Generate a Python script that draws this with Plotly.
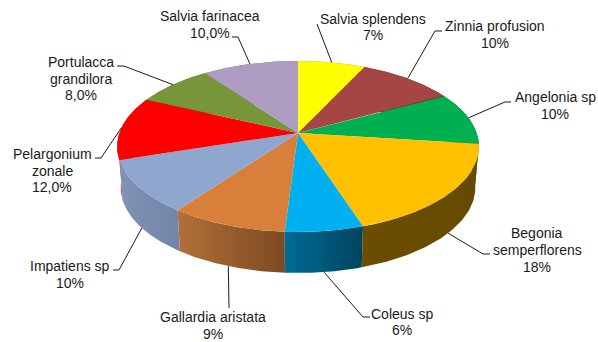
import numpy as np
import plotly.graph_objects as go

# ---- data ----
species = ["Salvia splendens", "Zinnia profusion", "Angelonia sp",
           "Begonia semperflorens", "Coleus sp", "Gallardia aristata",
           "Impatiens sp", "Pelargonium zonale", "Portulacca grandilora",
           "Salvia farinacea"]
values = [7, 10, 10, 18, 6, 9, 10, 12, 8, 10]
label_lines = [["Salvia splendens", "7%"],
               ["Zinnia profusion", "10%"],
               ["Angelonia sp", "10%"],
               ["Begonia", "semperflorens", "18%"],
               ["Coleus sp", "6%"],
               ["Gallardia aristata", "9%"],
               ["Impatiens sp", "10%"],
               ["Pelargonium", "zonale", "12,0%"],
               ["Portulacca", "grandilora", "8,0%"],
               ["Salvia farinacea", "10,0%"]]

# ---- styles ----
top_colors = ["#ffff00", "#a54644", "#00b050", "#ffc000", "#00b0f0",
              "#d8803b", "#8fa6cf", "#ff0000", "#779539", "#ae9cc2"]
side_colors = [("#999900", "#999900"), ("#632a29", "#632a29"), ("#006a30", "#006a30"),
               ("#6b4e00", "#664a00"), ("#006c94", "#00435f"), ("#b2703a", "#7c4a22"),
               ("#7f93b6", "#7285a8"), ("#e0405a", "#d03050"), ("#475922", "#475922"),
               ("#685d74", "#685d74")]

# ---- layout geometry (pixels of the 598x342 page) ----
CX, CY = 298.0, 133.0      # apex of the pie
A, B, K = 178.7, 83.4, 0.158   # perspective projection of the disc
DEPTH, BOTTOM_SCALE = 41.0, 0.98
LINE_STEP = 16.7
# index: (use bottom rim for the anchor, elbow, line end, label centre x, label centre y)
leader_style = {
    0: (False, None, (317, 24), 373, 27),
    1: (False, (435, 31), (442, 31), 495, 34.5),
    2: (False, (505, 102), (511, 102), 555, 105.5),
    3: (True, (483, 254), (490, 254), 537, 250),
    4: (True, (363, 317), (370, 317), 402, 322),
    5: (True, None, (229, 308), 213, 325.5),
    6: (True, (119, 270), (113, 270), 70, 274.5),
    7: (False, (101, 158), (95, 158), 52, 170.5),
    8: (False, (124, 66), (117, 66), 81, 78.5),
    9: (False, (238, 37), (232, 37), 210, 24.5),
}


def rim(theta):
    u, v = np.sin(theta), np.cos(theta)
    w = 1 + K * v
    return CX + A * u / w, CY - B * v / w


def lower(x, y):
    return CX + BOTTOM_SCALE * (x - CX), y + DEPTH


total = sum(values)
edges = 2 * np.pi * np.cumsum([0] + values) / total
fig = go.Figure()

# side walls, far ones first
mids = (edges[:-1] + edges[1:]) / 2
for i in np.argsort(rim(mids)[1]):
    th = np.linspace(edges[i], edges[i + 1], 80)
    x, y = rim(th)
    xb, yb = lower(x, y)
    fig.add_trace(go.Scatter(
        x=np.r_[x, xb[::-1], x[0]], y=np.r_[y, yb[::-1], y[0]],
        mode="lines", line=dict(width=0), fill="toself",
        fillgradient=dict(type="horizontal",
                          colorscale=[[0, side_colors[i][0]], [1, side_colors[i][1]]]),
        hoverinfo="skip"))

# top faces
for i in range(len(values)):
    th = np.linspace(edges[i], edges[i + 1], 80)
    x, y = rim(th)
    fig.add_trace(go.Scatter(
        x=np.r_[CX, x, CX], y=np.r_[CY, y, CY],
        mode="lines", line=dict(width=0), fill="toself",
        fillcolor=top_colors[i], name=species[i], hoverinfo="skip"))

# leader lines and labels
annotations = []
for i in range(len(values)):
    use_lower, elbow, end, tx, ty = leader_style[i]
    sx, sy = rim(mids[i])
    if use_lower:
        sx, sy = lower(sx, sy)
    pts = [(sx, sy)] + ([elbow] if elbow else []) + [end]
    fig.add_trace(go.Scatter(
        x=[p[0] for p in pts], y=[p[1] for p in pts], mode="lines",
        line=dict(color="#1a1a1a", width=1), hoverinfo="skip"))
    n = len(label_lines[i])
    for k, line in enumerate(label_lines[i]):
        annotations.append(dict(
            x=tx, y=ty + (k - (n - 1) / 2) * LINE_STEP, xref="x", yref="y",
            showarrow=False, xanchor="center", yanchor="middle", text=line,
            font=dict(family="Liberation Sans, Arial, sans-serif", size=14, color="#1a1a1a")))

fig.update_layout(
    width=598, height=342, margin=dict(l=0, r=0, t=0, b=0),
    paper_bgcolor="white", plot_bgcolor="white", showlegend=False,
    xaxis=dict(range=[0, 598], visible=False, fixedrange=True),
    yaxis=dict(range=[342, 0], visible=False, fixedrange=True),
    annotations=annotations)
fig.write_html("out.html", config={"displayModeBar": False},
               post_script="document.body.style.margin='0';document.body.style.overflow='hidden';")
